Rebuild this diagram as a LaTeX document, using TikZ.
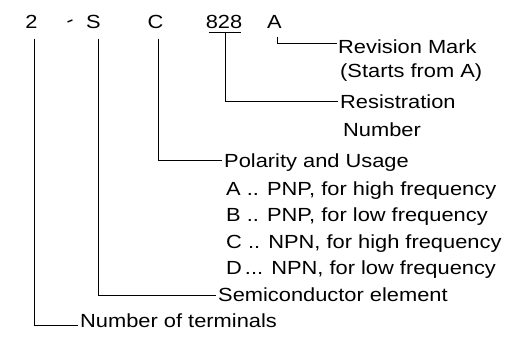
\documentclass[tikz,border=0pt]{standalone}
\usepackage{fontspec}
\setmainfont{Liberation Sans}[FakeStretch=1.15]
\begin{document}
\begin{tikzpicture}[x=1pt,y=-1pt,
  txt/.style={inner sep=0pt, text height=13.6pt, text depth=0pt, font=\fontsize{19}{23}\selectfont},
  lab/.style={txt, anchor=west},
  chr/.style={txt, anchor=center},
  conn/.style={line width=0.8pt, black}]
\useasboundingbox (0,0) rectangle (526,341);
% top row
\node[chr] (n2) at (31.5,21.5) {2};
\node[inner sep=0pt, font=\fontsize{19}{23}\selectfont, rotate=22] (hy) at (71,23.2) {-};
\node[chr] (nS) at (93.5,21.5) {S};
\node[chr] (nC) at (155.5,21.5) {C};
\node[chr] (n828) at (224,21.5) {828};
\node[chr] (nA) at (274.5,21.5) {A};
% labels
\node[lab] (lrev) at (338,46.5) {Revision Mark};
\node[lab] (lstart) at (340,70.5) {(Starts from A)};
\node[lab] (lres) at (340,101.5) {Resistration};
\node[lab] (lnum) at (343,129.5) {Number};
\node[lab] (lpol) at (224,160.5) {Polarity and Usage};
\node[lab] (la) at (226,188.5) {A .. PNP, for high frequency};
\node[lab] (lb) at (226,215) {B .. PNP, for low frequency};
\node[lab] (lc) at (226,241.5) {C .. NPN, for high frequency};
\node[lab] (ld) at (226,268) {D\hspace{3pt}... NPN, for low frequency};
\node[lab] (lsemi) at (218,295) {Semiconductor element};
\node[lab] (lterm) at (80,321) {Number of terminals};
% connectors
\draw[conn] ([shift={(3,10)}]n2.south) |- ([shift={(-2,4)}]lterm.west);
\draw[conn] ([shift={(4.5,10)}]nS.south) |- ([xshift=-2pt]lsemi.west);
\draw[conn] ([shift={(2.5,10)}]nC.south) |- ([xshift=-2pt]lpol.west);
\draw[conn] ([shift={(3,4)}]n828.south west) -- ([shift={(-1,4)}]n828.south east);
\draw[conn] ([shift={(1,4)}]n828.south) |- ([xshift=-2pt]lres.west);
\draw[conn] ([shift={(2.5,8)}]nA.south) |- ([shift={(-1,-3)}]lrev.west);
\end{tikzpicture}
\end{document}
